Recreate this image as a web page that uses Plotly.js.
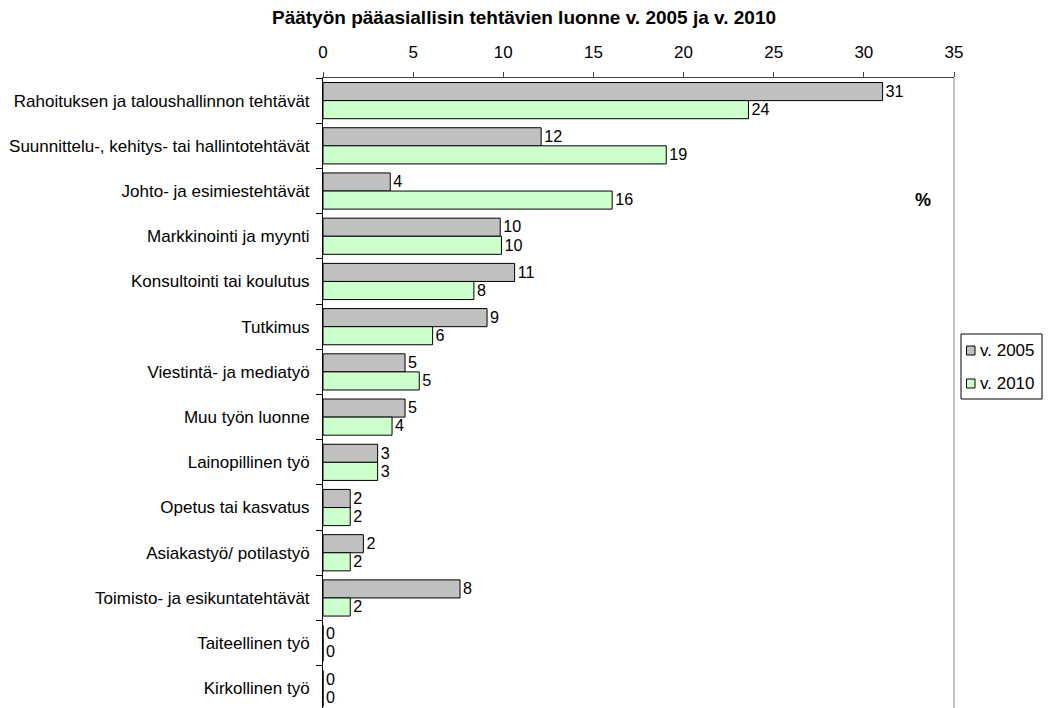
<!DOCTYPE html>
<html>
<head>
<meta charset="utf-8">
<script src="https://cdn.plot.ly/plotly-3.0.1.min.js"></script>
<style>html,body{margin:0;padding:0;overflow:hidden;background:#fff;}</style>
</head>
<body>
<div id="chart" style="width:1048px;height:711px;"></div>
<script>
const categories = [
  "Rahoituksen ja taloushallinnon tehtävät",
  "Suunnittelu-, kehitys- tai hallintotehtävät",
  "Johto- ja esimiestehtävät",
  "Markkinointi ja myynti",
  "Konsultointi tai koulutus",
  "Tutkimus",
  "Viestintä- ja mediatyö",
  "Muu työn luonne",
  "Lainopillinen työ",
  "Opetus tai kasvatus",
  "Asiakastyö/ potilastyö",
  "Toimisto- ja esikuntatehtävät",
  "Taiteellinen työ",
  "Kirkollinen työ"
];
const values2005 = [31.04, 12.1, 3.73, 9.83, 10.63, 9.1, 4.55, 4.55, 3.03, 1.51, 2.24, 7.6, 0, 0];
const values2010 = [23.6, 19.04, 16.04, 9.9, 8.37, 6.08, 5.34, 3.83, 3.03, 1.51, 1.51, 1.51, 0, 0];
const seriesNames = ["v. 2005", "v. 2010"];
const seriesColors = ["#C0C0C0", "#CCFFCC"];
const xTicks = [0, 5, 10, 15, 20, 25, 30, 35];

const font = "Liberation Sans, Arial, sans-serif";
const FS = 17;
const W = 1048, H = 711, ML = 323, MR = 94, MT = 78, MB = 0;
const PW = W - ML - MR, PH = H - MT - MB;
const px = x => (x - ML) / PW;
const py = y => (H - MB - y) / PH;

const mk = (name, vals, color) => ({
  type: "bar",
  orientation: "h",
  name: name,
  y: categories,
  x: vals,
  marker: {color: color, line: {color: "#000", width: 1}},
  texttemplate: "%{x:.0f}",
  textposition: "outside",
  textfont: {family: font, size: FS, color: "#000"},
  cliponaxis: false,
  showlegend: false,
  hoverinfo: "x+y"
});

const data = [
  mk(seriesNames[0], values2005, seriesColors[0]),
  mk(seriesNames[1], values2010, seriesColors[1])
];

// manual legend (box, swatches, labels)
const shapes = [
  {type: "line", xref: "paper", yref: "paper", x0: 1, x1: 1, y0: 0, y1: 1,
   line: {color: "#888", width: 1}},
  {type: "rect", xref: "paper", yref: "paper",
   x0: px(961), x1: px(1042), y0: py(334), y1: py(399),
   line: {color: "#000", width: 1}, fillcolor: "#fff"}
];
const annotations = [{
  text: "<b>%</b>",
  xref: "paper", yref: "paper",
  x: px(923), y: py(200),
  xanchor: "center", yanchor: "middle",
  showarrow: false,
  font: {family: font, size: 18, color: "#000"}
}];
const rowY = [350.5, 383.5];
seriesNames.forEach((n, i) => {
  shapes.push({type: "rect", xref: "paper", yref: "paper",
    x0: px(966.5), x1: px(975), y0: py(rowY[i] - 4.5), y1: py(rowY[i] + 4.5),
    line: {color: "#000", width: 1}, fillcolor: seriesColors[i]});
  annotations.push({text: n, xref: "paper", yref: "paper",
    x: px(978), y: py(rowY[i]), xanchor: "left", yanchor: "middle",
    showarrow: false, font: {family: font, size: FS, color: "#000"}});
});

const layout = {
  width: W,
  height: H,
  margin: {l: ML, r: MR, t: MT, b: MB},
  paper_bgcolor: "#fff",
  plot_bgcolor: "#fff",
  font: {family: font, size: FS, color: "#000"},
  title: {
    text: "<b>Päätyön pääasiallisin tehtävien luonne v. 2005 ja v. 2010</b>",
    font: {family: font, size: 19, color: "#000"},
    xref: "container", x: 0.5, xanchor: "center",
    yref: "container", y: 1 - 17/H, yanchor: "middle"
  },
  showlegend: false,
  barmode: "group",
  bargap: 0.2,
  bargroupgap: 0,
  xaxis: {
    side: "top",
    range: [0, 35],
    tickvals: xTicks,
    ticktext: xTicks.map(String),
    ticks: "outside",
    ticklen: 5,
    tickcolor: "#444",
    showline: true,
    linecolor: "#444",
    linewidth: 1,
    showgrid: false,
    zeroline: false,
    tickfont: {family: font, size: FS, color: "#000"},
    ticklabelstandoff: 7,
    fixedrange: true
  },
  yaxis: {
    type: "category",
    autorange: "reversed",
    ticks: "outside",
    tickson: "boundaries",
    ticklen: 6,
    tickcolor: "#000",
    showline: true,
    linecolor: "#000",
    linewidth: 1,
    showgrid: false,
    zeroline: false,
    tickfont: {family: font, size: FS, color: "#000"},
    ticklabelstandoff: 9,
    fixedrange: true
  },
  shapes: shapes,
  annotations: annotations
};

Plotly.newPlot("chart", data, layout, {displayModeBar: false, staticPlot: true});
</script>
</body>
</html>
